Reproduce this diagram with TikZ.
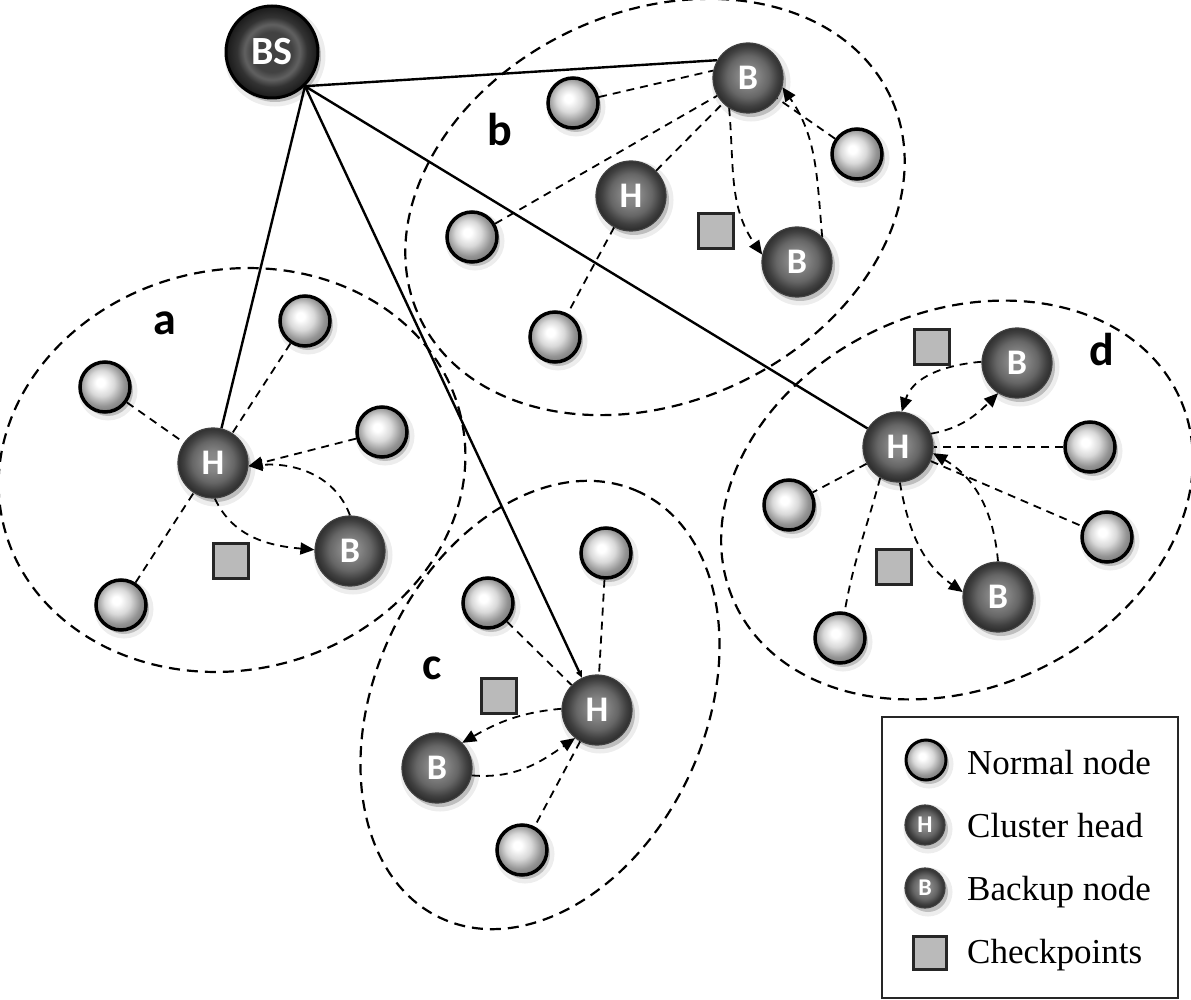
\documentclass[tikz,border=0pt]{standalone}
\usepackage{fontspec}
\setmainfont{Liberation Serif}
\newfontfamily\lblfont{Carlito}
\usetikzlibrary{arrows.meta}
\pgfdeclarelayer{bg}
\pgfsetlayers{bg,main}
\pgfdeclareradialshading{nshade}{\pgfpoint{-5bp}{5bp}}{color(0bp)=(white); color(4bp)=(white); color(13bp)=(black!15); color(22bp)=(black!42); color(31bp)=(black!58); color(50bp)=(black!58)}
\pgfdeclareradialshading{dshade}{\pgfpoint{0bp}{1.5bp}}{color(0bp)=(black!45); color(7bp)=(black!48); color(15bp)=(black!60); color(21bp)=(black!75); color(26bp)=(black!84); color(50bp)=(black!86)}
\pgfdeclareradialshading{bsshade}{\pgfpoint{0bp}{0bp}}{color(0bp)=(black!74); color(11bp)=(black!74); color(15bp)=(black!62); color(19bp)=(black!80); color(25bp)=(black!90); color(50bp)=(black!90)}
\tikzset{
  shad/.style={preaction={draw=black, line width=9pt, draw opacity=0.07, fill=black, fill opacity=0.2, transform canvas={shift={(3pt,-4pt)}}}},
  nnode/.style={circle, minimum size=50pt, inner sep=0pt, line width=3.5pt, draw=black, shad, shade, shading=nshade},
  dnode/.style={circle, minimum size=70pt, inner sep=0pt, line width=1.2pt, draw=black!75, shad, shade, shading=dshade, text=white, font=\lblfont\bfseries\fontsize{36}{36}\selectfont},
  bsnode/.style={circle, minimum size=92pt, inner sep=0pt, line width=3pt, draw=black, shad, shade, shading=bsshade, text=white, font=\lblfont\bfseries\fontsize{40}{40}\selectfont},
  chk/.style={rectangle, minimum size=35pt, inner sep=0pt, line width=3pt, draw=black!85, fill=black!27},
  conn/.style={dash pattern=on 8pt off 6pt, line width=1.8pt},
  arr/.style={-{Triangle[length=14pt,width=12pt]}},
  ell/.style={dash pattern=on 11pt off 7pt, line width=2.2pt},
  sline/.style={line width=2.4pt},
  clab/.style={font=\lblfont\bfseries\fontsize{46}{46}\selectfont, text=black, inner sep=0pt},
  legtxt/.style={anchor=base west, inner sep=0pt, font=\fontsize{35}{35}\selectfont},
}
\begin{document}
\begin{tikzpicture}[x=1pt,y=1pt]
\useasboundingbox (0,0) rectangle (1191,-1000);
% base station
\node[bsnode] (BS) at (272,-52) {BS};
\coordinate (bsp) at (BS.-46);
% cluster b
\node[dnode] (Bb1) at (748,-78) {B};
\node[dnode] (Bb2) at (797,-262) {B};
\node[dnode] (Hb) at (631,-196) {H};
\node[nnode] (nb1) at (573,-103) {};
\node[nnode] (nb2) at (472,-237) {};
\node[nnode] (nb3) at (857,-154) {};
\node[nnode] (nb4) at (555,-337) {};
\node[chk] (ckb) at (716,-231) {};
\node[clab] (lb) at (500,-130) {b};
% cluster a
\node[dnode] (Ha) at (213,-463) {H};
\node[dnode] (Ba) at (350,-551) {B};
\node[nnode] (na1) at (105,-387) {};
\node[nnode] (na2) at (305,-321) {};
\node[nnode] (na3) at (382,-432) {};
\node[nnode] (na4) at (121,-605) {};
\node[chk] (cka) at (231,-561) {};
\node[clab] (la) at (165,-323) {a};
% cluster c
\node[dnode] (Hc) at (597,-710) {H};
\node[dnode] (Bc) at (437,-768) {B};
\node[nnode] (nc1) at (606,-553) {};
\node[nnode] (nc2) at (488,-603) {};
\node[nnode] (nc3) at (522,-850) {};
\node[chk] (ckc) at (499,-696) {};
\node[clab] (lc) at (432,-668) {c};
% cluster d
\node[dnode] (Hd) at (898,-447) {H};
\node[dnode] (Bd1) at (1017,-363) {B};
\node[dnode] (Bd2) at (998,-597) {B};
\node[nnode] (nd1) at (1090,-447) {};
\node[nnode] (nd2) at (789,-505) {};
\node[nnode] (nd3) at (1107,-537) {};
\node[nnode] (nd4) at (840,-638) {};
\node[chk] (ckd1) at (932,-347) {};
\node[chk] (ckd2) at (894,-567) {};
\node[clab] (ld) at (1102,-350) {d};
% legend
\node[draw=black!85, line width=2pt, minimum width=296pt, minimum height=281pt, inner sep=0pt] (legend) at (1030,-857.5) {};
\node[nnode, minimum size=40pt, line width=3pt] (lg1) at (926,-760) {};
\node[dnode, minimum size=40pt, font=\lblfont\bfseries\fontsize{24}{24}\selectfont] (lg2) at (925,-825) {H};
\node[dnode, minimum size=40pt, font=\lblfont\bfseries\fontsize{24}{24}\selectfont] (lg3) at (925,-888) {B};
\node[chk, minimum size=33pt] (lg4) at (930,-953) {};
\node[legtxt] (lt1) at (967,-774) {Normal node};
\node[legtxt] (lt2) at (967,-837) {Cluster head};
\node[legtxt] (lt3) at (967,-900) {Backup node};
\node[legtxt] (lt4) at (967,-963) {Checkpoints};
\begin{pgfonlayer}{bg}
% cluster boundaries
\draw[ell, rotate around={13:(232,-470)}] (232,-470) ellipse [x radius=235pt, y radius=200pt];
\draw[ell, rotate around={25:(655,-207)}] (655,-207) ellipse [x radius=260pt, y radius=195pt];
\draw[ell, rotate around={65:(540,-705)}] (540,-705) ellipse [x radius=235pt, y radius=165pt];
\draw[ell, rotate around={25:(957,-500)}] (957,-500) ellipse [x radius=245pt, y radius=188pt];
% BS links
\draw[sline] (bsp) -- (Bb1.150);
\draw[sline] (bsp) -- (Ha);
\draw[sline, -{Triangle[length=7pt,width=6pt]}] (bsp) -- (Hc);
\draw[sline] (bsp) -- (Hd);
% cluster b links
\draw[conn] (nb1) -- (Bb1.168);
\draw[conn] (nb2) -- (Bb1);
\draw[conn] (Hb) -- (Bb1);
\draw[conn] (Hb) -- (nb4);
\draw[conn] (nb3) -- (Bb1);
\draw[conn,arr] (Bb1.-122) to[out=-85,in=125] (Bb2.168);
\draw[conn,arr] (Bb2.45) to[out=95,in=-55] (Bb1.-15);
% cluster a links
\draw[conn] (na1) -- (Ha);
\draw[conn] (na2) -- (Ha);
\draw[conn] (na4) -- (Ha);
\draw[conn,arr] (na3) -- (Ha.-5);
\draw[conn,arr] (Ba.90) to[out=110,in=5] (Ha.-5);
\draw[conn,arr] (Ha.-87) to[out=-65,in=175] (Ba.178);
% cluster c links
\draw[conn] (nc1) -- (Hc);
\draw[conn] (nc2) -- (Hc);
\draw[conn] (Hc) -- (nc3);
\draw[conn,arr] (Hc.178) to[out=185,in=30] (Bc.45);
\draw[conn,arr] (Bc.-12) to[out=-5,in=-145] (Hc.-128);
% cluster d links
\draw[conn,arr] (Bd1.178) to[out=185,in=72] (Hd.84);
\draw[conn,arr] (Hd.22) to[out=10,in=-135] (Bd1.-122);
\draw[conn] (nd1) -- (Hd);
\draw[conn,arr] (Bd2.90) to[out=95,in=-30] (Hd.-10);
\draw[conn] (Hd) -- (nd2);
\draw[conn] (Hd) -- (nd3);
\draw[conn,arr] (Hd.-87) to[out=-80,in=145] (Bd2.172);
\draw[conn] (Hd.-120) to[out=-105,in=80] (nd4);
\end{pgfonlayer}
\end{tikzpicture}
\end{document}
